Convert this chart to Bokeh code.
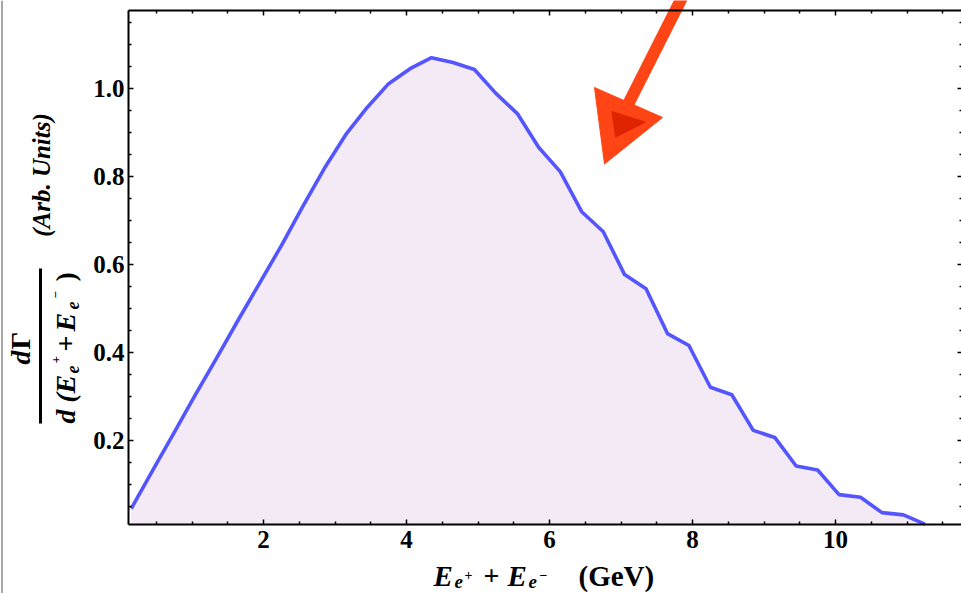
from bokeh.plotting import figure
from bokeh.models import Range1d, FixedTicker, LinearAxis, Label
from bokeh.embed import file_html
from bokeh.resources import INLINE

# ---- data ----
energy = [0.15, 0.45, 0.75, 1.05, 1.35, 1.65, 1.95, 2.25, 2.55, 2.85,
          3.15, 3.45, 3.75, 4.05, 4.35, 4.65, 4.95, 5.25, 5.55, 5.85,
          6.15, 6.45, 6.75, 7.05, 7.35, 7.65, 7.95, 8.25, 8.55, 8.85,
          9.15, 9.45, 9.75, 10.05, 10.35, 10.65, 10.95, 11.25]
rate = [0.045, 0.132, 0.218, 0.305, 0.389, 0.475, 0.559, 0.643, 0.732, 0.818,
        0.895, 0.957, 1.011, 1.045, 1.070, 1.059, 1.043, 0.989, 0.943, 0.866,
        0.811, 0.720, 0.675, 0.577, 0.545, 0.443, 0.416, 0.321, 0.304, 0.223,
        0.207, 0.142, 0.133, 0.077, 0.071, 0.036, 0.031, 0.010]

x_ticks = [2, 4, 6, 8, 10]
x_tick_labels = ["2", "4", "6", "8", "10"]
x_minor = [0.5, 1.0, 1.5, 2.5, 3.0, 3.5, 4.5, 5.0, 5.5, 6.5, 7.0, 7.5,
           8.5, 9.0, 9.5, 10.5, 11.0, 11.5]
y_ticks = [0.2, 0.4, 0.6, 0.8, 1.0]
y_tick_labels = ["0.2", "0.4", "0.6", "0.8", "1.0"]
y_minor = [0.05, 0.1, 0.15, 0.25, 0.3, 0.35, 0.45, 0.5, 0.55, 0.65, 0.7, 0.75,
           0.85, 0.9, 0.95, 1.05, 1.1, 1.15]

# ---- canvas-pixel -> data helpers (layout only) ----
def X(px):
    return 2 + (px - 263) / 71.5

def Y(py):
    return 1 - (py - 88) / 440.0

W, H = 961, 593
FONT = "Liberation Serif"

# edges of the drawn box (pixels)
LEFT, TOP, BOTTOM, RIGHT = 128, 10, 524, 962
x_axis_at = Y(BOTTOM)

p = figure(width=W, height=H,
           x_range=Range1d(X(0), X(W)), y_range=Range1d(Y(H), Y(0)),
           output_backend="svg", toolbar_location=None,
           min_border=0, min_border_left=0, min_border_right=0,
           min_border_top=0, min_border_bottom=0)
p.background_fill_color = "white"
p.border_fill_color = "white"
p.outline_line_color = None
p.xgrid.visible = False
p.ygrid.visible = False

# fill + curve
p.varea(x=energy, y1=x_axis_at, y2=rate, fill_color="#F4EAF5")
p.line(energy, rate, line_width=3.6, color="#5555FF", line_join="round")

# red arrow (decoration)
p.line([X(682), X(627)], [Y(-4), Y(105)], line_width=12, color="#FF4515")
p.patch([X(594), X(662), X(604)], [Y(87), Y(117), Y(163.5)], color="#FF4515")
p.patch([X(611.5), X(645), X(615)], [Y(111), Y(121.7), Y(136.7)], color="#E02400")

# window edge line at far left (as in the screenshot)
p.line([X(1.5), X(1.5)], [Y(0), Y(H)], line_width=1.5, color="#8a8a8a")


def style_axis(ax, line=True):
    ax.axis_line_width = 2
    ax.axis_line_color = "black" if line else None
    ax.major_tick_in = 5
    ax.major_tick_out = 0
    ax.minor_tick_in = 3
    ax.minor_tick_out = 0
    ax.major_tick_line_width = 1.5
    ax.minor_tick_line_width = 1.5
    ax.major_tick_line_color = "black"
    ax.minor_tick_line_color = "black"
    ax.major_label_text_font = FONT
    ax.major_label_text_font_style = "bold"
    ax.major_label_text_font_size = "25px"
    ax.major_label_text_color = "black"


# main bottom / left axes with labels
xa = p.xaxis[0]
xa.ticker = FixedTicker(ticks=x_ticks, minor_ticks=x_minor)
xa.major_label_overrides = {t: l for t, l in zip(x_ticks, x_tick_labels)}
style_axis(xa)
xa.fixed_location = x_axis_at
xa.bounds = (X(LEFT), X(RIGHT))
xa.major_label_standoff = 6

ya = p.yaxis[0]
ya.ticker = FixedTicker(ticks=y_ticks, minor_ticks=y_minor)
ya.major_label_overrides = {t: l for t, l in zip(y_ticks, y_tick_labels)}
style_axis(ya)
ya.fixed_location = X(LEFT)
ya.bounds = (Y(BOTTOM), Y(TOP))
ya.major_label_standoff = 4

# tick-only axes on top and right (major ticks longer than minor)
for ticks, length, line in ((x_ticks, 5, True), (x_minor, 3, False)):
    ax = LinearAxis(ticker=FixedTicker(ticks=[], minor_ticks=ticks))
    style_axis(ax, line=line)
    ax.minor_tick_in = length
    ax.fixed_location = Y(TOP)
    ax.bounds = (X(LEFT), X(RIGHT))
    p.add_layout(ax, "above")

for ticks, length in ((y_ticks, 5), (y_minor, 3)):
    ax = LinearAxis(ticker=FixedTicker(ticks=[], minor_ticks=ticks))
    style_axis(ax, line=False)
    ax.minor_tick_in = length
    ax.fixed_location = X(RIGHT)
    ax.bounds = (Y(BOTTOM), Y(TOP))
    p.add_layout(ax, "right")

R = 1.5707963267948966


def lab(text, px, base, size, style="bold italic", rotated=False, align="left"):
    """px: start (or centre) along the text; base: baseline position."""
    m = 0.34 * size  # middle of the em box above the baseline
    if rotated:
        x, y, ang = X(base - m), Y(px), R
    else:
        x, y, ang = X(px), Y(base - m), 0.0
    p.add_layout(Label(x=x, y=y, text=text, text_font=FONT,
                       text_font_style=style, text_font_size=f"{size}px",
                       text_color="black", angle=ang, text_align=align,
                       text_baseline="middle"))

# x-axis label: E_{e+} + E_{e-}   (GeV)
lab("E", 433, 585, 29)
lab("e", 454, 587, 19)
lab("+", 464, 579, 14, "bold")
lab("+", 483, 585, 28, "bold")
lab("E", 507, 585, 29)
lab("e", 528, 587, 19)
lab("\u2212", 539, 579, 14, "bold")
lab("(GeV)", 578, 585, 29, "bold")

# y-axis label (rotated): dΓ / d(E_{e+} + E_{e-})   (Arb. Units)
lab("d", 364, 30, 28, rotated=True)
lab("\u0393", 349, 30, 28, "bold", rotated=True)
p.segment(x0=[X(40)], y0=[Y(268)], x1=[X(40)], y1=[Y(423)],
          line_width=3, color="black")
lab("d (", 423, 75, 28, rotated=True)
lab("E", 393, 75, 28, rotated=True)
lab("e", 373, 78, 18, rotated=True)
lab("+", 363, 60, 13, "bold", rotated=True)
lab("+", 351, 75, 28, "bold", rotated=True)
lab("E", 331, 75, 28, rotated=True)
lab("e", 309, 78, 18, rotated=True)
lab("\u2212", 298, 60, 13, "bold", rotated=True)
lab(")", 281, 75, 28, "bold", rotated=True)
lab("(Arb. Units)", 174.5, 49, 25, rotated=True, align="center")

open("out.html", "w").write(file_html(p, INLINE))
